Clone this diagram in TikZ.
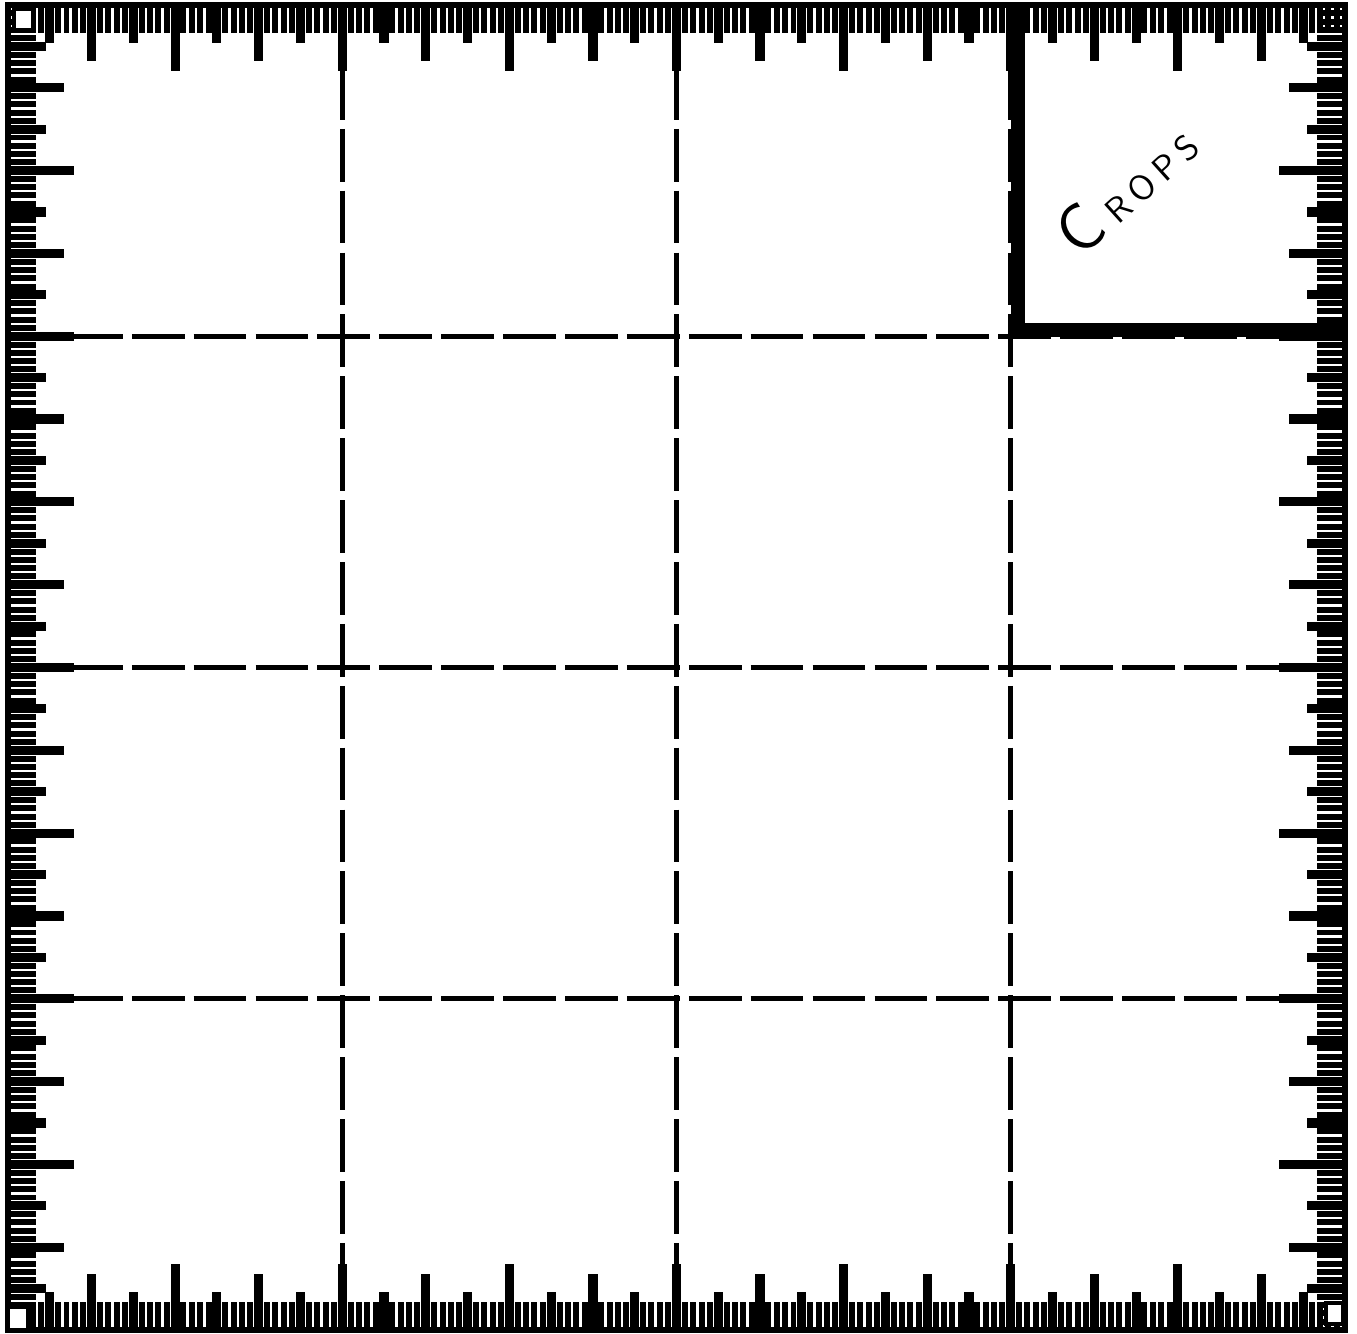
\documentclass[tikz,border=0pt]{standalone}
\usepackage{tikz}

\begin{document}
\begin{tikzpicture}[
  x=0.01cm, y=-0.01cm,
  every node/.style={inner sep=1pt},
  rim/.style={draw, line width=1.6pt},
  gridline/.style={draw, line width=1.5pt, dash pattern=on 15pt off 2.6pt},
  cropbox/.style={draw, line width=4pt, line join=miter},
  cornerbox/.style={draw, fill=white, line width=1pt},
  cropstext/.style={font=\sffamily, rotate=42, inner sep=0pt}]

  \useasboundingbox (0,0) rectangle (1357,1334);

  % ruler ticks on the four edges (frame 8..1345 by 5..1330)
  \foreach \i in {1,...,159}{
    \pgfmathsetmacro{\len}{mod(\i,20)==0 ? 66 : (mod(\i,10)==0 ? 56 : (mod(\i,5)==0 ? 38 : 28))}
    \pgfmathsetmacro{\wid}{mod(\i,5)==0 ? 2.6 : 1.7}
    \pgfmathsetmacro{\px}{8+\i*8.35625}
    \pgfmathsetmacro{\py}{5+\i*8.28125}
    \draw[line width=\wid pt] (\px,5) -- ++(0,\len);
    \draw[line width=\wid pt] (\px,1330) -- ++(0,-\len);
    \draw[line width=\wid pt] (8,\py) -- ++(\len,0);
    \draw[line width=\wid pt] (1345,\py) -- ++(-\len,0);
  }

  % outer frame
  \draw[rim] (8,5) rectangle (1345,1330);

  % dashed grid, four by four
  \foreach \k in {1,2,3}{
    \draw[gridline] ({8+\k*334.25},5) -- ({8+\k*334.25},1330);
    \draw[gridline] (8,{5+\k*331.25}) -- (1345,{5+\k*331.25});
  }

  % the marked cell, top right
  \draw[cropbox] (1018,5) -- (1018,330) -- (1345,330);
  \node[cropstext] (crops) at (1126,188)
    {{\fontsize{19}{19}\selectfont C}\kern3pt{\fontsize{10}{10}\selectfont R\kern2pt O\kern2pt P\kern2pt S}};

  % small squares in the corners
  \draw[cornerbox] (14,9) rectangle (33,30);
  \draw[cornerbox] (8,1307) rectangle (28,1330);
  \draw[cornerbox] (1326,1303) rectangle (1343,1324);
\end{tikzpicture}
\end{document}
